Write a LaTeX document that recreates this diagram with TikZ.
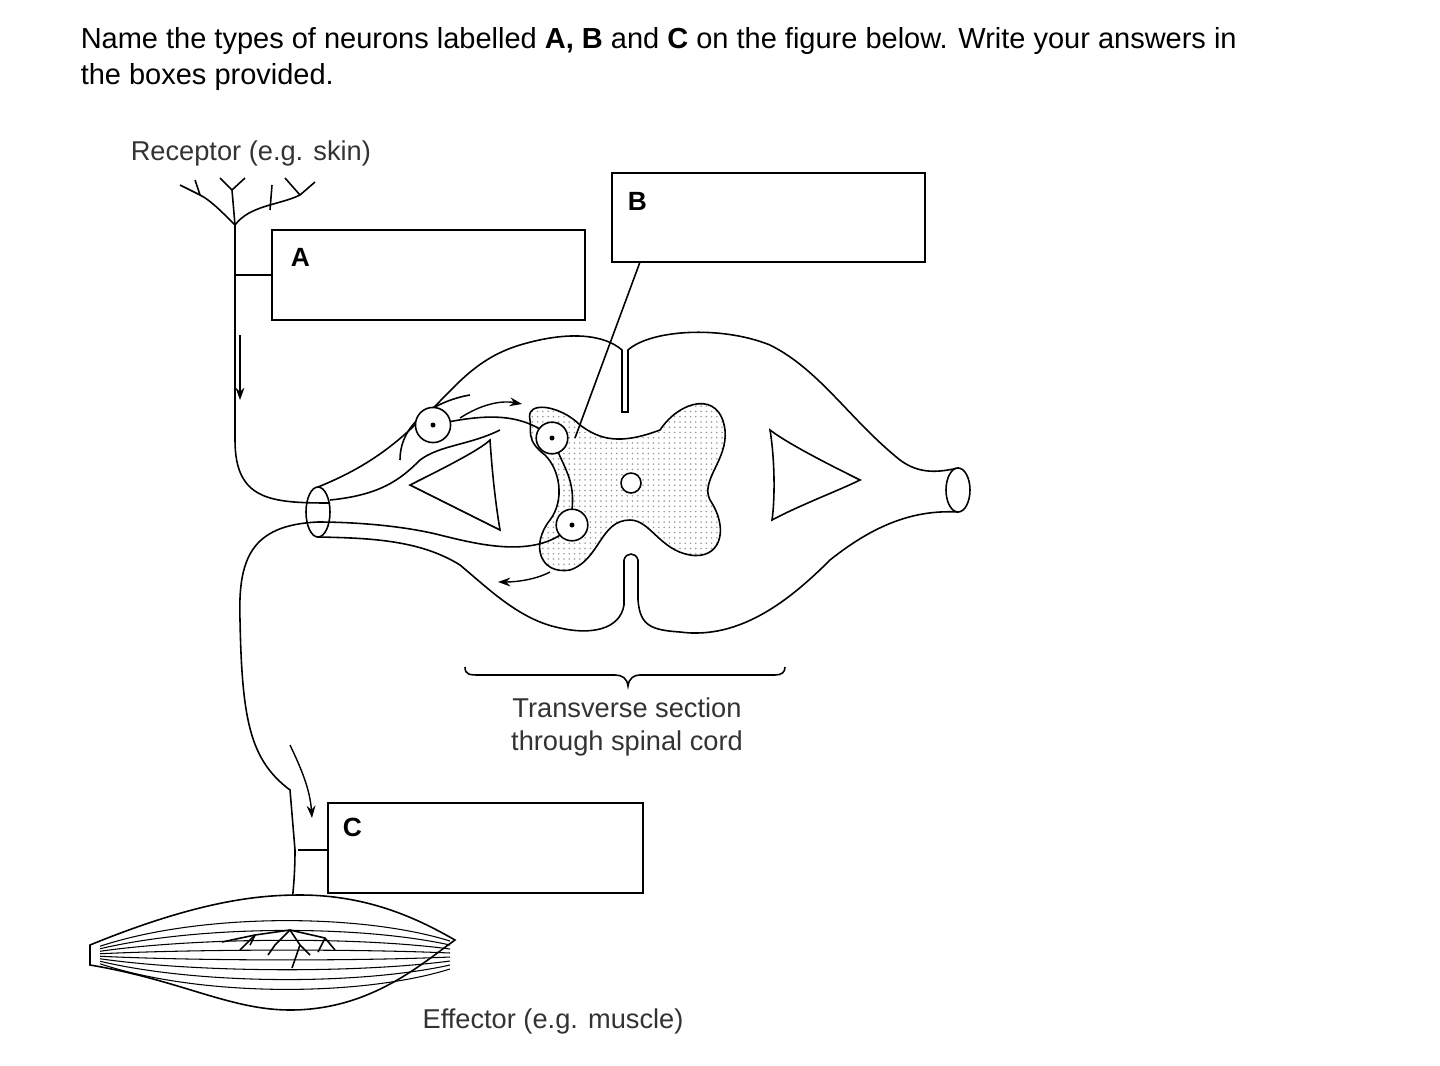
\documentclass[tikz,border=0pt]{standalone}
\usepackage{fontspec}
\setmainfont{Liberation Sans}
\usetikzlibrary{arrows.meta,patterns}
\begin{document}
\begin{tikzpicture}[x=0.02cm,y=-0.02cm,line width=0.9pt,
  lbl/.style={font=\fontsize{15.5}{19}\selectfont,text=black!80,inner sep=0},
  ansbox/.style={draw,line width=0.9pt},
  arr/.style={-{Stealth[length=7pt,width=5pt]},line width=0.8pt},
  cell/.style={draw,circle,minimum size=18pt,inner sep=0,fill=white}]
\useasboundingbox (0,0) rectangle (1440,1065);
% heading
\node[anchor=base west,inner sep=0,font=\fontsize{16.5}{20}\selectfont] (h1) at (80,48) {Name the types of neurons labelled \textbf{A, B} and \textbf{C} on the figure below. Write your answers in};
\node[anchor=base west,inner sep=0,font=\fontsize{16.5}{20}\selectfont] (h2) at (80,84) {the boxes provided.};
\node[lbl,anchor=base west] (rec) at (130,160) {Receptor (e.g. skin)};
% answer boxes
\draw[ansbox] (272,230) rectangle (585,320);
\node[anchor=base west,inner sep=0,font=\bfseries\fontsize{15}{18}\selectfont] (la) at (290,266) {A};
\draw[ansbox] (612,173) rectangle (925,262);
\node[anchor=base west,inner sep=0,font=\bfseries\fontsize{15}{18}\selectfont] (lb) at (627,210) {B};
\draw[ansbox] (328,803) rectangle (643,893);
\node[anchor=base west,inner sep=0,font=\bfseries\fontsize{15}{18}\selectfont] (lc) at (342,836) {C};
% spinal cord outline
\draw[fill=white] (318,487) .. controls (360,470) and (390,450) .. (420,420)
  .. controls (450,395) and (470,360) .. (520,345)
  .. controls (570,330) and (605,335) .. (622,350) -- (622,412)
  -- (628,412) -- (628,350)
  .. controls (650,330) and (720,325) .. (770,345)
  .. controls (820,370) and (850,420) .. (900,460)
  .. controls (920,475) and (940,472) .. (958,468)
  -- (958,512)
  .. controls (920,510) and (880,520) .. (830,560)
  .. controls (790,600) and (740,640) .. (680,632)
  .. controls (650,630) and (640,625) .. (638,600) -- (638,560)
  .. controls (636,552) and (626,552) .. (624,560) -- (624,605)
  .. controls (620,630) and (590,635) .. (560,628)
  .. controls (520,620) and (490,590) .. (460,565)
  .. controls (420,540) and (370,538) .. (318,537) -- cycle;
\draw[fill=white] (958,490) ellipse (12 and 22);
\draw[fill=white] (318,512) ellipse (12 and 25);
% dorsal root line
\draw (330,500) .. controls (380,495) and (400,480) .. (420,460)
  .. controls (440,445) and (470,445) .. (500,430);
% gray matter
\draw[pattern=dots,pattern color=black!40] (530,420) .. controls (525,400) and (560,405) .. (580,425)
  .. controls (600,440) and (620,445) .. (660,430)
  .. controls (680,400) and (720,390) .. (725,430)
  .. controls (728,460) and (700,480) .. (710,500)
  .. controls (730,530) and (720,560) .. (690,555)
  .. controls (660,550) and (650,520) .. (630,520)
  .. controls (600,520) and (600,560) .. (570,570)
  .. controls (540,575) and (530,545) .. (550,520)
  .. controls (565,500) and (560,470) .. (545,455)
  .. controls (525,440) and (532,430) .. (530,420) -- cycle;
\draw[fill=white] (631,483) circle (10);
% white matter triangles
\draw (490,440) .. controls (480,450) and (440,470) .. (410,485)
  .. controls (430,495) and (480,520) .. (500,530)
  .. controls (495,500) and (492,470) .. (490,440) -- cycle;
\draw (770,430) .. controls (775,460) and (775,500) .. (772,520)
  .. controls (800,505) and (840,490) .. (860,480)
  .. controls (830,465) and (790,445) .. (770,430) -- cycle;
% dorsal root ganglion bulge
\draw (400,460) .. controls (400,420) and (440,400) .. (470,395);
% receptor neuron
\draw (235,225) -- (235,440) .. controls (235,500) and (270,503) .. (330,503);
\draw (235,225) .. controls (220,210) and (210,200) .. (200,195);
\draw (200,195) -- (180,185); \draw (200,195) -- (195,180);
\draw (235,225) .. controls (250,205) and (280,205) .. (300,195);
\draw (300,195) -- (315,182); \draw (300,195) -- (285,178);
\draw (235,225) -- (232,190); \draw (232,190) -- (220,178); \draw (232,190) -- (245,178);
\draw (270,210) -- (272,185);
\draw (235,275) -- (272,275);
% sensory to interneuron
\draw (433,425) .. controls (480,415) and (520,410) .. (552,438);
\draw (552,438) .. controls (565,470) and (575,480) .. (572,510);
% motor neuron
\draw (572,525) .. controls (540,560) and (480,545) .. (440,535)
  .. controls (400,525) and (350,522) .. (318,522);
\draw (318,522) .. controls (250,525) and (238,560) .. (240,620)
  .. controls (242,720) and (250,760) .. (290,790) -- (295,850)
  .. controls (295,890) and (290,910) .. (290,930);
\draw (298,850) -- (328,850);
% cells
\node[cell,minimum size=20pt] (c1) at (433,425) {}; \fill (c1) circle (2.5);
\node[cell,minimum size=18pt] (c2) at (552,438) {}; \fill (c2) circle (2.5);
\node[cell,minimum size=18pt] (c3) at (572,525) {}; \fill (c3) circle (2.5);
% arrows
\draw[arr] (240,335) -- (240,400);
\draw[arr] (460,418) .. controls (480,405) and (500,400) .. (522,404);
\draw[arr] (550,572) .. controls (535,580) and (515,582) .. (498,582);
\draw[arr] (290,745) .. controls (302,770) and (310,790) .. (312,818);
% muscle
\draw[fill=white] (90,945) .. controls (200,900) and (260,895) .. (300,895)
  .. controls (370,895) and (420,920) .. (455,940)
  .. controls (420,965) and (370,1010) .. (290,1010)
  .. controls (230,1010) and (180,980) .. (90,965) -- cycle;
\foreach \d in {-35,-25,-15,-5,5,15,25,35}{
  \draw[line width=0.6pt] (100,955+\d*0.25) .. controls (200,955+\d*1.2) and (360,955+\d*1.2) .. (450,955+\d*0.4);}
% nerve endings
\draw (290,930) -- (255,935) -- (240,950); \draw (255,935)--(250,945);
\draw (290,930) -- (275,945) -- (268,955);
\draw (290,930) -- (300,945) -- (292,968); \draw (300,945)--(310,955);
\draw (290,930) -- (325,938) -- (335,950); \draw (325,938) -- (318,952);
\draw (222,942)--(255,935);
% brace
\draw (465,667) .. controls (465,675) and (470,675) .. (480,675) -- (615,675)
  .. controls (622,675) and (627,678) .. (628,686)
  .. controls (629,678) and (634,675) .. (640,675) -- (775,675)
  .. controls (782,675) and (785,672) .. (785,667);
\node[lbl,align=center] (ts) at (627,727) {Transverse section\\through spinal cord};
\node[lbl,anchor=base] (eff) at (553,1028) {Effector (e.g. muscle)};
% B pointer
\draw (640,262) -- (575,438);
\end{tikzpicture}
\end{document}
